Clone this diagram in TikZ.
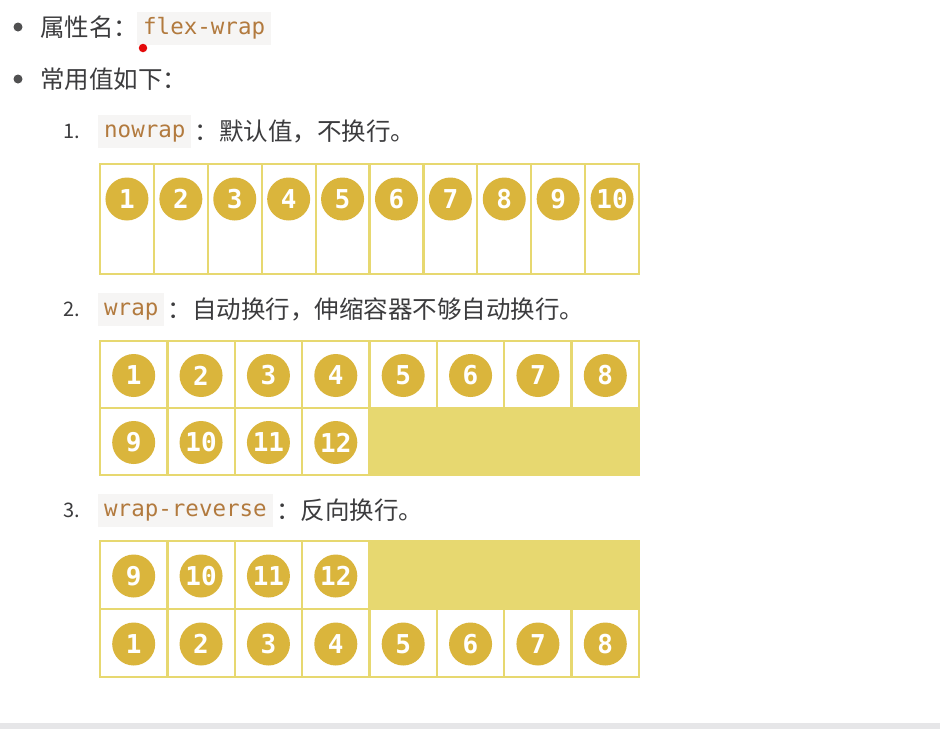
\documentclass[tikz,border=0pt]{standalone}
\usepackage{fontspec}
\setmainfont{Noto Sans CJK SC}
\setmonofont{DejaVu Sans Mono}
\usetikzlibrary{positioning}

\definecolor{textgray}{RGB}{60,60,62}
\definecolor{codebg}{RGB}{246,245,244}
\definecolor{codetext}{RGB}{178,122,62}
\definecolor{markred}{RGB}{228,10,10}
\definecolor{flexyellow}{RGB}{231,216,112}
\definecolor{ballgold}{RGB}{218,181,60}
\definecolor{stripgray}{RGB}{230,230,232}

\begin{document}
\begin{tikzpicture}[x=1pt,y=-1pt]
	\tikzstyle{bullet dot}=[circle,fill=textgray!90,minimum size=9pt,inner sep=0pt]
	\tikzstyle{body text}=[anchor=west,inner sep=0pt,text=textgray,font=\fontsize{24.5}{28}\selectfont]
	\tikzstyle{list num}=[anchor=west,inner sep=0pt,text=textgray,font=\fontsize{20}{24}\selectfont]
	\tikzstyle{code word}=[anchor=west,fill=codebg,text=codetext,inner xsep=6pt,minimum height=33pt,text height=17pt,text depth=5pt,font=\ttfamily\fontsize{22.5}{26}\selectfont]
	\tikzstyle{container}=[fill=flexyellow]
	\tikzstyle{flex item}=[fill=white]
	\tikzstyle{item ball}=[circle,fill=ballgold,text=white,minimum size=43pt,inner sep=0pt,font=\ttfamily\bfseries\fontsize{26}{26}\selectfont]
	
	% Page size
	\useasboundingbox[fill=white] (0,0) rectangle (940,729);
	\fill[stripgray] (0,723) rectangle (940,729);
	
	% Draw the bullet lines
	\node[bullet dot] (B-1) at (18,27) {};
	\node[body text] (T-1) at (40,27) {属性名：};
	\node[code word] (C-0) at (137,28) {flex-wrap};
	\node[circle,fill=markred,minimum size=8.5pt,inner sep=0pt] (mark) at (143,48) {};
	\node[bullet dot] (B-2) at (18,79) {};
	\node[body text] (T-2) at (40,79) {常用值如下：};
	
	% Draw the numbered values
	\foreach \n / \y / \val / \desc in {1/131/nowrap/{：默认值，不换行。},2/309.5/wrap/{：自动换行，伸缩容器不够自动换行。},3/510.5/wrap-reverse/{：反向换行。}}
	{
		\node[list num] (L-\n) at (63,\y) {\n.};
		\node[code word] (C-\n) at (98,\y) {\val};
		\node[body text, right=3pt of C-\n] (D-\n) {\desc};
	}
	
	% Draw the nowrap container
	\fill[container] (99,163) rectangle (640,275);
	\foreach \i in {1,...,10}
	{
		\fill[flex item] ({100+(\i-1)*53.9+1.1},165.1) rectangle ({100+\i*53.9-1.1},272.9);
		\node[item ball] (N-\i) at ({100+(\i-0.5)*53.9},199) {\i};
	}
	
	% Draw the wrap container
	\fill[container] (99,340) rectangle (640,476);
	\foreach \i in {1,...,12}
	{
		\pgfmathtruncatemacro\col{mod(\i-1,8)}
		\pgfmathtruncatemacro\row{div(\i-1,8)}
		\fill[flex item] ({100+\col*67.375+1.2},{341+\row*67+1.2}) rectangle ({100+(\col+1)*67.375-1.2},{341+(\row+1)*67-1.2});
		\node[item ball] (W-\i) at ({100+(\col+0.5)*67.375},{341+(\row+0.5)*67+1}) {\i};
	}
	
	% Draw the wrap-reverse container
	\fill[container] (99,540) rectangle (640,678);
	\foreach \i in {1,...,12}
	{
		\pgfmathtruncatemacro\col{mod(\i-1,8)}
		\pgfmathtruncatemacro\row{1-div(\i-1,8)}
		\fill[flex item] ({100+\col*67.375+1.2},{541+\row*68+1.2}) rectangle ({100+(\col+1)*67.375-1.2},{541+(\row+1)*68-1.2});
		\node[item ball] (R-\i) at ({100+(\col+0.5)*67.375},{541+(\row+0.5)*68+1}) {\i};
	}
\end{tikzpicture}
\end{document}
